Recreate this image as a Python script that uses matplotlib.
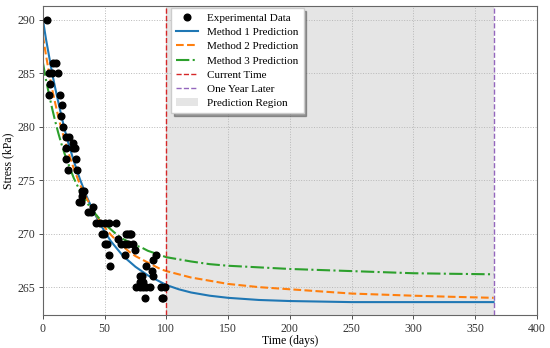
import numpy as np
import matplotlib
matplotlib.use("Agg")
import matplotlib.pyplot as plt

plt.rcParams["font.family"] = ["Liberation Serif", "DejaVu Serif"]
plt.rcParams["font.size"] = 8.5

# experimental observations (day, stress in kPa)
obs_days = [3, 5, 7, 6, 5, 8.5, 11, 12.5, 13.5, 15.4, 14.5, 16.4, 19, 21,
            19, 24.5, 26, 24, 18.7, 27.2, 20.5, 27.7,
            29, 31, 31.3, 33.4, 32, 36.6, 38.8, 40.6,
            43.4, 46, 50, 53.6, 59.5, 48, 49.3, 50.6, 52, 53.6, 54.7,
            61, 63.5, 66.2, 68.9, 72.9, 68.9, 71.1, 67.6, 70.3, 66.2, 74.3,
            75.7, 78.4, 81, 83.8, 86.5, 80, 79, 83, 88.4, 89.2, 91.4, 83.8,
            89, 78.4, 81, 95.4, 99.1, 96.4, 97.2]
obs_stress = [290, 285, 285, 284, 283, 286, 286, 285, 283, 282, 281, 280, 279, 279,
              278, 278, 278, 278.5, 277, 277, 276, 276,
              273, 273, 274, 274, 273.5, 272, 272, 272.5,
              271, 271, 271, 271, 271, 270, 270, 269, 269, 268, 267,
              269.5, 269, 269, 269, 269, 270, 270, 270, 270, 268, 268.5,
              265, 265, 265, 265, 265, 266, 265.5, 264, 266.5, 267.5, 268, 267,
              266, 266, 265.5, 265, 265, 264, 264]

# model predictions read at these days
pred_days = [0, 2.5, 5, 7.5, 10, 12.5, 15, 17.5, 20, 25, 30, 35, 40, 45, 50, 55,
             60, 65, 70, 75, 80, 85, 90, 95, 100, 110, 120, 135, 150, 175,
             200, 225, 250, 275, 300, 330, 365]
method1 = [290.0, 288.2, 286.6, 285.0, 283.6, 282.3, 281.0, 279.8, 278.7, 276.8,
           275.1, 273.6, 272.3, 271.2, 270.2, 269.3, 268.6, 267.9, 267.4, 266.9,
           266.5, 266.1, 265.8, 265.5, 265.2, 264.8, 264.5, 264.2, 264.0, 263.8,
           263.7, 263.65, 263.6, 263.6, 263.6, 263.6, 263.6]
method2 = [288.5, 286.7, 285.0, 283.5, 282.2, 280.9, 279.8, 278.8, 277.8, 276.1,
           274.6, 273.4, 272.3, 271.4, 270.6, 269.9, 269.3, 268.8, 268.3, 267.9,
           267.6, 267.3, 267.0, 266.7, 266.5, 266.2, 265.9, 265.6, 265.3, 265.0,
           264.8, 264.6, 264.4, 264.3, 264.2, 264.1, 264.0]
method3 = [286.0, 284.4, 283.0, 281.7, 280.5, 279.4, 278.4, 277.5, 276.7, 275.2,
           274.0, 273.0, 272.2, 271.5, 270.9, 270.4, 269.9, 269.5, 269.2, 268.9,
           268.7, 268.4, 268.2, 268.0, 267.8, 267.6, 267.4, 267.15, 267.0, 266.85,
           266.7, 266.6, 266.5, 266.4, 266.3, 266.25, 266.2]

current_day = 100
year_later = 365

fig = plt.figure(figsize=(5.5, 3.48), dpi=100)
ax = fig.add_axes([0.078, 0.095, 0.898, 0.888])

ax.axvspan(current_day, year_later, color="gray", alpha=0.2, lw=0,
           label="Prediction Region", zorder=0)
ax.plot(obs_days, obs_stress, "o", color="black", ms=4.8, label="Experimental Data", zorder=3)
ax.plot(pred_days, method1, "-", color="#1f77b4", lw=1.5, label="Method 1 Prediction")
ax.plot(pred_days, method2, "--", color="#ff7f0e", lw=1.5, label="Method 2 Prediction")
ax.plot(pred_days, method3, "-.", color="#2ca02c", lw=1.5, label="Method 3 Prediction")
ax.axvline(current_day, color="#d62728", ls="--", lw=1, label="Current Time")
ax.axvline(year_later, color="#9467bd", ls="--", lw=1, label="One Year Later")

ax.set_xlim(0, 400)
ax.set_ylim(262.4, 291.3)
ax.set_yticks([265, 270, 275, 280, 285, 290])
ax.set_xlabel("Time (days)", labelpad=0)
ax.set_ylabel("Stress (kPa)", labelpad=2)
ax.grid(True, ls=":", color="#b8b8b8", lw=0.7)
ax.set_axisbelow(True)
for s in ax.spines.values():
    s.set_color("#666666")
ax.tick_params(colors="#333333", length=3, width=0.6, pad=2.5)

handles, labels = ax.get_legend_handles_labels()
order = [1, 2, 3, 4, 5, 6, 0]
leg = ax.legend([handles[i] for i in order], [labels[i] for i in order],
                loc="upper left", bbox_to_anchor=(0.255, 1.0), shadow=True,
                fancybox=False, framealpha=1, edgecolor="#cccccc", fontsize=8,
                handlelength=2.0, labelspacing=0.4, borderpad=0.45,
                borderaxespad=0.2)

fig.savefig("out.png", dpi=100)
